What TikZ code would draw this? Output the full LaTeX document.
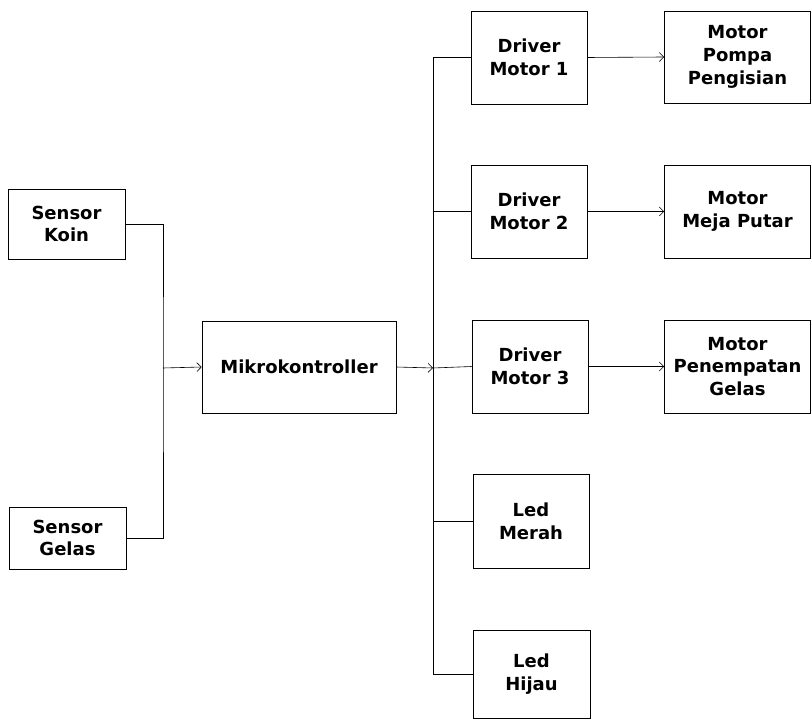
\documentclass[tikz,border=0pt]{standalone}
\usepackage{fontspec}
\setmainfont{DejaVu Sans}
\usetikzlibrary{arrows.meta}

\begin{document}
\begin{tikzpicture}[
    x=1pt, y=-1pt,
    line width=.6pt,
    blok/.style={draw, align=center, inner sep=0pt,
      font=\bfseries\fontsize{18}{22.8}\selectfont},
    panah/.style={-{Straight Barb[length=4.5pt,width=9pt]}},
  ]
  \useasboundingbox (0,0) rectangle (812,719);

  % input
  \node[blok, minimum width=117pt, minimum height=70pt] (koin) at (66.5,224) {Sensor\\Koin};
  \node[blok, minimum width=117pt, minimum height=62pt] (gelas) at (67.5,538) {Sensor\\Gelas};
  \node[blok, minimum width=194pt, minimum height=92pt] (mikro) at (299,367) {Mikrokontroller};

  % driver dan led
  \node[blok, minimum width=116pt, minimum height=93pt] (drv1) at (529,57.5) {Driver\\Motor 1};
  \node[blok, minimum width=116pt, minimum height=93pt] (drv2) at (529,211.5) {Driver\\Motor 2};
  \node[blok, minimum width=116pt, minimum height=93pt] (drv3) at (530,366.5) {Driver\\Motor 3};
  \node[blok, minimum width=116pt, minimum height=94pt] (merah) at (531,521) {Led\\Merah};
  \node[blok, minimum width=117pt, minimum height=88pt] (hijau) at (531.5,674) {Led\\Hijau};

  % motor
  \node[blok, minimum width=146pt, minimum height=92pt] (pompa) at (737.5,57) {Motor\\Pompa\\Pengisian};
  \node[blok, minimum width=146pt, minimum height=93pt] (meja) at (737.5,211.5) {Motor\\Meja Putar};
  \node[blok, minimum width=146pt, minimum height=93pt] (tempat) at (737.5,366.5) {Motor\\Penempatan\\Gelas};

  \coordinate (kiri) at (163,368);
  \coordinate (bus) at (433,368);

  \draw (koin.east) -| (kiri) |- (gelas.east);
  \draw[panah] (kiri) -- (mikro.west);
  \draw[panah] (mikro.east) -- (bus);
  \draw (drv1.west -| bus) -- (hijau.west -| bus);
  \foreach \n in {drv1,drv2,merah,hijau}
    \draw (\n.west -| bus) -- (\n.west);
  \draw (bus) -- (drv3.west);
  \foreach \a/\b in {drv1/pompa,drv2/meja,drv3/tempat}
    \draw[panah] (\a.east) -- (\b.west);
\end{tikzpicture}
\end{document}
